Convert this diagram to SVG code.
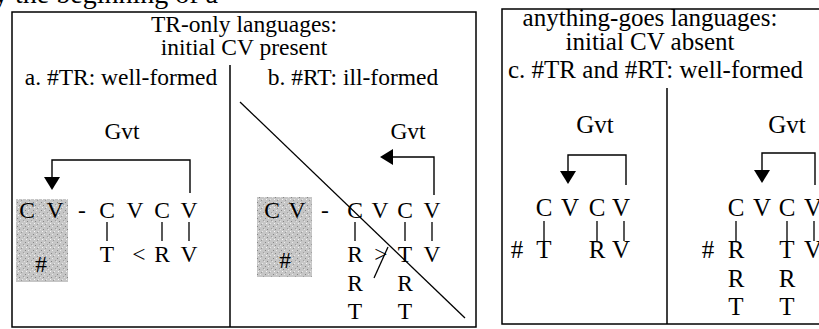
<svg xmlns="http://www.w3.org/2000/svg" width="819" height="329" viewBox="0 0 819 329">
<defs>
<style>
text{font-family:"Liberation Serif","Times New Roman",serif;fill:#000}
.l{font-size:23.5px}
.r{font-size:25px}
.m{text-anchor:middle}
.box{fill:none;stroke:#000;stroke-width:1.5}
.ln{fill:none;stroke:#000;stroke-width:1.3}
.arr{fill:none;stroke:#000;stroke-width:1.4;marker-end:url(#ah)}
.gray{fill:url(#stipple)}
</style>
<pattern id="stipple" width="8" height="8" patternUnits="userSpaceOnUse">
<rect width="8" height="8" fill="#c6c6c6"/>
<rect x="1" y="2" width="1" height="1" fill="#858585"/>
<rect x="5" y="0" width="1" height="1" fill="#979797"/>
<rect x="3" y="5" width="1" height="1" fill="#858585"/>
<rect x="7" y="4" width="1" height="1" fill="#a0a0a0"/>
<rect x="6" y="7" width="1" height="1" fill="#e6e6e6"/>
<rect x="2" y="7" width="1" height="1" fill="#f5f5f5"/>
<rect x="0" y="5" width="1" height="1" fill="#e2e2e2"/>
<rect x="4" y="2" width="1" height="1" fill="#ebebeb"/>
</pattern>
<marker id="ah" viewBox="0 0 13 16" refX="0" refY="8" markerWidth="13" markerHeight="16" markerUnits="userSpaceOnUse" orient="auto"><path d="M0,0 L13,8 L0,16 z" fill="#000"/></marker>
</defs>
<rect width="819" height="329" fill="#fff"/>
<text x="-6" y="3" style="font-size:28px">y the beginning of a</text>

<g id="box-left">
<rect class="box" x="12" y="12" width="464" height="315"/>
<path class="box" d="M230,65 V327"/>
<text class="l m" x="244" y="32">TR-only languages:</text>
<text class="l m" x="244" y="55">initial CV present</text>
</g>

<g id="panel-a">
<text class="l m" x="121" y="85">a. #TR: well-formed</text>
<text class="l m" x="122" y="139">Gvt</text>
<rect class="gray" x="16" y="199" width="52" height="83"/>
<g class="l m">
<text x="27" y="218">C</text><text x="55" y="218">V</text>
<text x="82" y="218">-</text>
<text x="107" y="218">C</text><text x="135" y="218">V</text><text x="162" y="218">C</text><text x="189" y="218">V</text>
<text x="41" y="272">#</text>
<text x="107" y="262">T</text><text x="139" y="262">&lt;</text><text x="162" y="262">R</text><text x="189" y="262">V</text>
</g>
</g>

<g id="panel-b">
<text class="l m" x="353" y="85">b. #RT: ill-formed</text>
<text class="l m" x="408" y="139">Gvt</text>
<rect class="gray" x="257" y="197" width="55" height="80"/>
<g class="l m">
<text x="272" y="218">C</text><text x="297" y="218">V</text>
<text x="325" y="218">-</text>
<text x="355" y="218">C</text><text x="380" y="218">V</text><text x="405" y="218">C</text><text x="432" y="218">V</text>
<text x="285" y="268">#</text>
<text x="355" y="262">R</text><text x="381" y="262">&gt;</text><text x="405" y="262">T</text><text x="432" y="262">V</text>
<text x="355" y="291">R</text><text x="405" y="291">R</text>
<text x="355" y="319">T</text><text x="405" y="319">T</text>
</g>
</g>

<g id="box-right">
<rect class="box" x="502" y="9" width="330" height="315"/>
<path class="box" d="M667,88 V324"/>
<text class="r m" x="650" y="26">anything-goes languages:</text>
<text class="r m" x="650" y="50">initial CV absent</text>
<text class="r" x="508" y="78">c. #TR and #RT: well-formed</text>
</g>

<g id="panel-c1">
<text class="r m" x="595" y="133">Gvt</text>
<g class="r m">
<text x="544" y="216">C</text><text x="570" y="216">V</text><text x="597" y="216">C</text><text x="621" y="216">V</text>
<text x="517" y="258">#</text>
<text x="544" y="258">T</text><text x="597" y="258">R</text><text x="621" y="258">V</text>
</g>
</g>

<g id="panel-c2">
<text class="r m" x="787" y="133">Gvt</text>
<g class="r m">
<text x="736" y="216">C</text><text x="762" y="216">V</text><text x="787" y="216">C</text><text x="813" y="216">V</text>
<text x="708" y="258">#</text>
<text x="736" y="258">R</text><text x="787" y="258">T</text><text x="813" y="258">V</text>
<text x="736" y="287">R</text><text x="787" y="287">R</text>
<text x="736" y="315">T</text><text x="787" y="315">T</text>
</g>
</g>

<g id="connectors">
<path class="arr" d="M190,193 V160 H52 V177"/>
<path class="arr" d="M434,195 V157 H393"/>
<path class="arr" d="M626,185 V155 H568 V171"/>
<path class="arr" d="M815,185 V153 H762 V170"/>
<path class="ln" d="M107,222 V241 M162,222 V241 M189,222 V241"/>
<path class="ln" d="M355,222 V241 M405,222 V241 M432,222 V241"/>
<path class="ln" d="M544,221 V241 M597,221 V241 M624,221 V241"/>
<path class="ln" d="M736,221 V241 M787,221 V241 M814,221 V241"/>
<path class="ln" d="M374,278 L388,247"/>
<path class="ln" d="M240,102 L465,318"/>
</g>
</svg>
